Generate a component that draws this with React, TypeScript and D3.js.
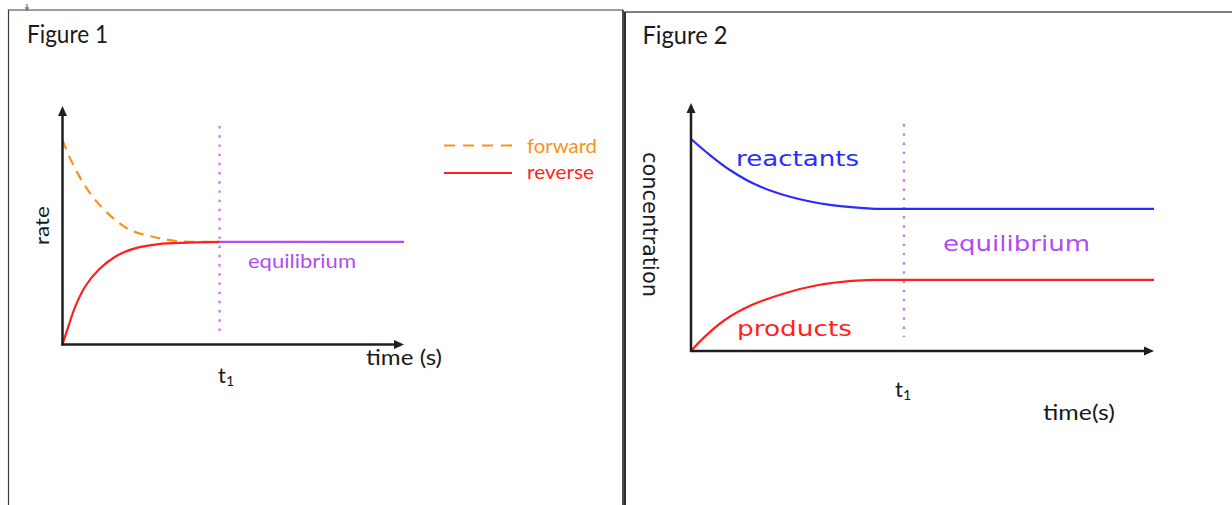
import React, { useEffect, useRef } from "react";
import * as d3 from "d3";

// Figure 1 - rate against time (time in arbitrary units 0..10, rate 0..10)
const fig1ForwardTime = [0, 0.27, 0.61, 1.0, 1.48, 1.98, 2.65, 3.34, 4.6];
const fig1Forward = [8.57, 7.66, 6.77, 5.99, 5.3, 4.8, 4.52, 4.34, 4.3];
const fig1ReverseTime = [0, 0.17, 0.37, 0.66, 1.05, 1.54, 2.12, 2.81, 3.69, 4.6];
const fig1Reverse = [0, 0.75, 1.58, 2.42, 3.12, 3.68, 4.03, 4.21, 4.27, 4.3];
const fig1EquilTime = [4.6, 10];
const fig1Equil = [4.3, 4.3];
const fig1T1 = 4.6;
const fig1LegendLabels = ["forward", "reverse"];

// Figure 2 - concentration against time
const fig2ReactTime = [0, 0.41, 0.84, 1.42, 2.14, 3.0, 3.97, 10];
const fig2Reactants = [8.55, 7.9, 7.3, 6.69, 6.22, 5.89, 5.73, 5.73];
const fig2ProdTime = [0, 0.3, 0.73, 1.31, 2.03, 2.75, 3.47, 3.97, 10];
const fig2Products = [0, 0.58, 1.25, 1.85, 2.33, 2.66, 2.83, 2.87, 2.87];
const fig2T1 = 4.6;

const AXIS = "#1e1e1e";
const ORANGE = "#f7931e";
const RED = "#ff1f1f";
const PURPLE = "#b04cf2";
const DOTS = "#c67af5";
const BLUE = "#2b2bff";
const CALIBRI = "Lato, 'Liberation Sans', sans-serif";
const CMSS = "'DejaVu Sans', sans-serif";

type Sel = d3.Selection<SVGGElement, unknown, null, undefined>;

function addText(
  g: Sel,
  o: {
    x: number;
    y: number;
    text: string;
    size: number;
    family: string;
    fill: string;
    width?: number;
    rotate?: number;
  }
) {
  const t = g
    .append("text")
    .attr("x", o.x)
    .attr("y", o.y)
    .attr("font-family", o.family)
    .attr("font-size", o.size)
    .attr("fill", o.fill)
    .text(o.text);
  if (o.width) t.attr("textLength", o.width).attr("lengthAdjust", "spacingAndGlyphs");
  if (o.rotate) t.attr("transform", `rotate(${o.rotate},${o.x},${o.y})`);
  return t;
}

// t with a subscript 1
function addT1(g: Sel, x: number, y: number, size: number) {
  const t = g
    .append("text")
    .attr("x", x)
    .attr("y", y)
    .attr("font-family", CALIBRI)
    .attr("font-size", size)
    .attr("fill", "#1a1a1a");
  t.append("tspan").text("t");
  t.append("tspan").attr("font-size", size * 0.65).attr("dy", 3).text("1");
}

function drawAxes(g: Sel, x: d3.ScaleLinear<number, number>, y: d3.ScaleLinear<number, number>) {
  const x0 = x(0);
  const y0 = y(0);
  const xEnd = x(10);
  const yEnd = y(10);
  g.append("line")
    .attr("x1", x0).attr("y1", y0 + 1)
    .attr("x2", x0).attr("y2", yEnd + 6)
    .attr("stroke", AXIS).attr("stroke-width", 2.5);
  g.append("line")
    .attr("x1", x0 - 1).attr("y1", y0)
    .attr("x2", xEnd - 6).attr("y2", y0)
    .attr("stroke", AXIS).attr("stroke-width", 2.5);
  g.append("path")
    .attr("d", `M${x0},${yEnd}L${x0 - 4.5},${yEnd + 10}L${x0 + 4.5},${yEnd + 10}Z`)
    .attr("fill", AXIS);
  g.append("path")
    .attr("d", `M${xEnd},${y0}L${xEnd - 10},${y0 - 4.5}L${xEnd - 10},${y0 + 4.5}Z`)
    .attr("fill", AXIS);
}

function drawSeries(
  g: Sel,
  x: d3.ScaleLinear<number, number>,
  y: d3.ScaleLinear<number, number>,
  ts: number[],
  vs: number[],
  color: string,
  dash?: string
) {
  // smooth curve through the changing part, straight line for a flat tail
  let k = vs.length - 1;
  while (k > 0 && vs[k - 1] === vs[k]) k--;
  const curved = vs.slice(0, k + 1);
  const line = d3
    .line<number>()
    .x((_, i) => x(ts[i]))
    .y((v) => y(v))
    .curve(d3.curveCatmullRom.alpha(0.5));
  let d = curved.length > 1 ? line(curved) || "" : `M${x(ts[0])},${y(vs[0])}`;
  if (k < vs.length - 1) d += `L${x(ts[vs.length - 1])},${y(vs[vs.length - 1])}`;
  const p = g
    .append("path")
    .attr("d", d)
    .attr("fill", "none")
    .attr("stroke", color)
    .attr("stroke-width", 2.2);
  if (dash) p.attr("stroke-dasharray", dash);
}

function drawDotted(g: Sel, x: number, y1: number, y2: number) {
  g.append("line")
    .attr("x1", x).attr("x2", x)
    .attr("y1", y1).attr("y2", y2)
    .attr("stroke", DOTS)
    .attr("stroke-width", 2.4)
    .attr("stroke-dasharray", "2.4 6.8");
}

export default function App() {
  const svgRef = useRef<SVGSVGElement>(null);

  useEffect(() => {
    const root = d3.select(svgRef.current);
    root.selectAll("*").remove();
    const svg = root.append("g") as unknown as Sel;

    // frames of the two figures
    svg.append("path").attr("d", "M8.5,505V10H623").attr("fill", "none").attr("stroke", "#3a3a3a").attr("stroke-width", 1.2);
    svg.append("line").attr("x1", 623).attr("x2", 623).attr("y1", 10).attr("y2", 505).attr("stroke", "#111").attr("stroke-width", 1.5);
    svg.append("path").attr("d", "M625,505V12H1232").attr("fill", "none").attr("stroke", "#555").attr("stroke-width", 1.3);
    svg.append("line").attr("x1", 625).attr("x2", 625).attr("y1", 12).attr("y2", 505).attr("stroke", "#111").attr("stroke-width", 1.5);
    svg.append("path").attr("d", "M27,4V11M25,8H29").attr("stroke", "#555").attr("stroke-width", 1);

    // ---------- Figure 1 ----------
    const g1 = svg.append("g") as Sel;
    const x1 = d3.scaleLinear().domain([0, 10]).range([62.5, 404]);
    const y1 = d3.scaleLinear().domain([0, 10]).range([344.5, 106]);

    addText(g1, { x: 27, y: 43, text: "Figure 1", size: 25, family: CALIBRI, fill: "#1a1a1a", width: 81 });

    drawDotted(g1, x1(fig1T1), y1(9.16), y1(0.52));
    drawSeries(g1, x1, y1, fig1EquilTime, fig1Equil, PURPLE);
    drawSeries(g1, x1, y1, fig1ForwardTime, fig1Forward, ORANGE, "10 7");
    drawSeries(g1, x1, y1, fig1ReverseTime, fig1Reverse, RED);
    drawAxes(g1, x1, y1);

    // legend
    const legendColors = [ORANGE, RED];
    fig1LegendLabels.forEach((lab, i) => {
      const ly = 145.5 + i * 27.5;
      g1.append("line")
        .attr("x1", 444).attr("x2", 512)
        .attr("y1", ly).attr("y2", ly)
        .attr("stroke", legendColors[i])
        .attr("stroke-width", 2.2)
        .attr("stroke-dasharray", i === 0 ? "11 8" : null);
      addText(g1, { x: 527, y: ly + 7.5 - i * 1.5, text: lab, size: 20, family: CALIBRI, fill: legendColors[i], width: i === 0 ? 70 : 67 });
    });

    addText(g1, { x: 248, y: 268, text: "equilibrium", size: 20, family: CALIBRI, fill: PURPLE, width: 108 });
    addText(g1, { x: 366, y: 365, text: "time (s)", size: 21, family: CALIBRI, fill: "#1a1a1a", width: 76 });
    addText(g1, { x: 49, y: 245, text: "rate", size: 20, family: CALIBRI, fill: "#1a1a1a", width: 39, rotate: -90 });
    addT1(g1, 218, 383, 22);

    // ---------- Figure 2 ----------
    const g2 = svg.append("g") as Sel;
    const x2 = d3.scaleLinear().domain([0, 10]).range([691, 1154]);
    const y2 = d3.scaleLinear().domain([0, 10]).range([351, 103]);

    addText(g2, { x: 642.5, y: 44, text: "Figure 2", size: 25, family: CALIBRI, fill: "#1a1a1a", width: 85 });

    drawDotted(g2, x2(fig2T1), y2(9.15), y2(0.56));
    drawSeries(g2, x2, y2, fig2ReactTime, fig2Reactants, BLUE);
    drawSeries(g2, x2, y2, fig2ProdTime, fig2Products, RED);
    drawAxes(g2, x2, y2);

    addText(g2, { x: 736, y: 166, text: "reactants", size: 21, family: CMSS, fill: BLUE, width: 123 });
    addText(g2, { x: 943, y: 251, text: "equilibrium", size: 21, family: CMSS, fill: PURPLE, width: 147 });
    addText(g2, { x: 737, y: 336, text: "products", size: 21, family: CMSS, fill: RED, width: 115 });
    addText(g2, { x: 643, y: 152, text: "concentration", size: 21, family: CMSS, fill: "#1a1a1a", width: 145, rotate: 90 });
    addT1(g2, 895, 397, 22);
    addText(g2, { x: 1043, y: 420, text: "time(s)", size: 22, family: CALIBRI, fill: "#1a1a1a", width: 72 });
  }, []);

  return (
    <svg
      ref={svgRef}
      width={1232}
      height={505}
      style={{ position: "absolute", left: 0, top: 0, background: "#fff" }}
    />
  );
}
